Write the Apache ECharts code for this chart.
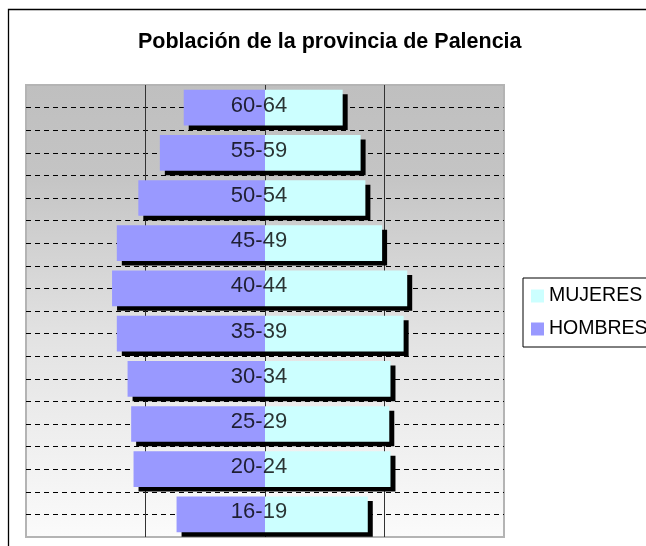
<!DOCTYPE html>
<html>
<head>
<meta charset="utf-8">
<script src="https://cdn.jsdelivr.net/npm/echarts@6/dist/echarts.min.js"></script>
<style>
  html, body { margin: 0; padding: 0; background: #fff; }
  #main { width: 646px; height: 546px; }
</style>
</head>
<body>
<div id="main"></div>
<script>
// grupos de edad, de abajo arriba
const categorias = ['16-19', '20-24', '25-29', '30-34', '35-39', '40-44', '45-49', '50-54', '55-59', '60-64']
const hombres = [3700, 5500, 5600, 5750, 6200, 6400, 6200, 5300, 4400, 3400]
const mujeres = [4300, 5250, 5200, 5250, 5800, 5950, 4900, 4200, 4000, 3250]

const fuente = '"Liberation Sans", Arial, sans-serif'
const sombra = { shadowColor: '#000', shadowBlur: 0, shadowOffsetX: 5, shadowOffsetY: 4.5 }

const myChart = echarts.init(document.getElementById('main'))
myChart.setOption({
  animation: false,
  title: {
    text: 'Población de la provincia de Palencia',
    left: 138, top: 31, padding: 0,
    textStyle: { fontFamily: fuente, fontSize: 21.5, fontWeight: 'bold', color: '#000' }
  },
  legend: {
    data: ['MUJERES', 'HOMBRES'],
    orient: 'vertical',
    left: 523, top: 278,
    padding: [8, 10, 8, 8],
    itemWidth: 13, itemHeight: 13, itemGap: 13,
    icon: 'rect',
    borderColor: '#000', borderWidth: 1, backgroundColor: '#fff',
    itemStyle: { shadowBlur: 0, shadowOffsetX: 0, shadowOffsetY: 0, shadowColor: 'transparent' },
    textStyle: { fontFamily: fuente, fontSize: 19.5, color: '#000' }
  },
  graphic: [{
    type: 'rect',
    shape: { x: 8.5, y: 9.5, width: 800, height: 800 },
    style: { fill: 'none', stroke: '#000', lineWidth: 1.3 }
  }],
  grid: {
    show: true, left: 26, right: 142, top: 85, bottom: 9,
    outerBoundsMode: 'none',
    borderColor: '#b4b4b4', borderWidth: 2,
    backgroundColor: new echarts.graphic.LinearGradient(0, 0, 0, 1, [
      { offset: 0, color: '#bfbfbf' },
      { offset: 0.2, color: '#c4c4c4' },
      { offset: 0.55, color: '#e2e2e2' },
      { offset: 1, color: '#fbfbfb' }
    ])
  },
  xAxis: {
    type: 'value', min: -10000, max: 10000, interval: 5000,
    axisLine: { show: false, onZero: false }, axisTick: { show: false }, axisLabel: { show: false },
    splitLine: { show: true, showMinLine: false, showMaxLine: false, lineStyle: { color: '#333', width: 1 } }
  },
  yAxis: [{
    type: 'category', data: categorias,
    axisLine: { show: false }, axisTick: { show: false },
    splitLine: { show: false }, axisLabel: { show: false }
  }, {
    type: 'value', min: 0, max: 20, interval: 1, position: 'right',
    axisLine: { show: false }, axisTick: { show: false }, axisLabel: { show: false },
    splitLine: { show: true, showMinLine: false, showMaxLine: false, lineStyle: { color: '#000', width: 1, type: [5, 4] } }
  }],
  series: [{
    name: 'HOMBRES', type: 'bar', barGap: '-100%', barCategoryGap: '21%',
    data: hombres.map(v => -v),
    itemStyle: Object.assign({ color: '#9999ff' }, sombra)
  }, {
    name: 'MUJERES', type: 'bar', barGap: '-100%', barCategoryGap: '21%',
    data: mujeres,
    itemStyle: Object.assign({ color: '#ccffff' }, sombra)
  }, {
    // etiquetas de edad sobre el eje central
    name: 'edades', type: 'scatter', z: 10, silent: true,
    symbolSize: 1, itemStyle: { color: 'transparent' },
    data: categorias.map(c => [0, c]),
    label: {
      show: true, position: 'inside', offset: [-6, -2],
      formatter: p => p.value[1],
      fontFamily: fuente, fontSize: 22, color: '#000'
    }
  }]
})
</script>
</body>
</html>
